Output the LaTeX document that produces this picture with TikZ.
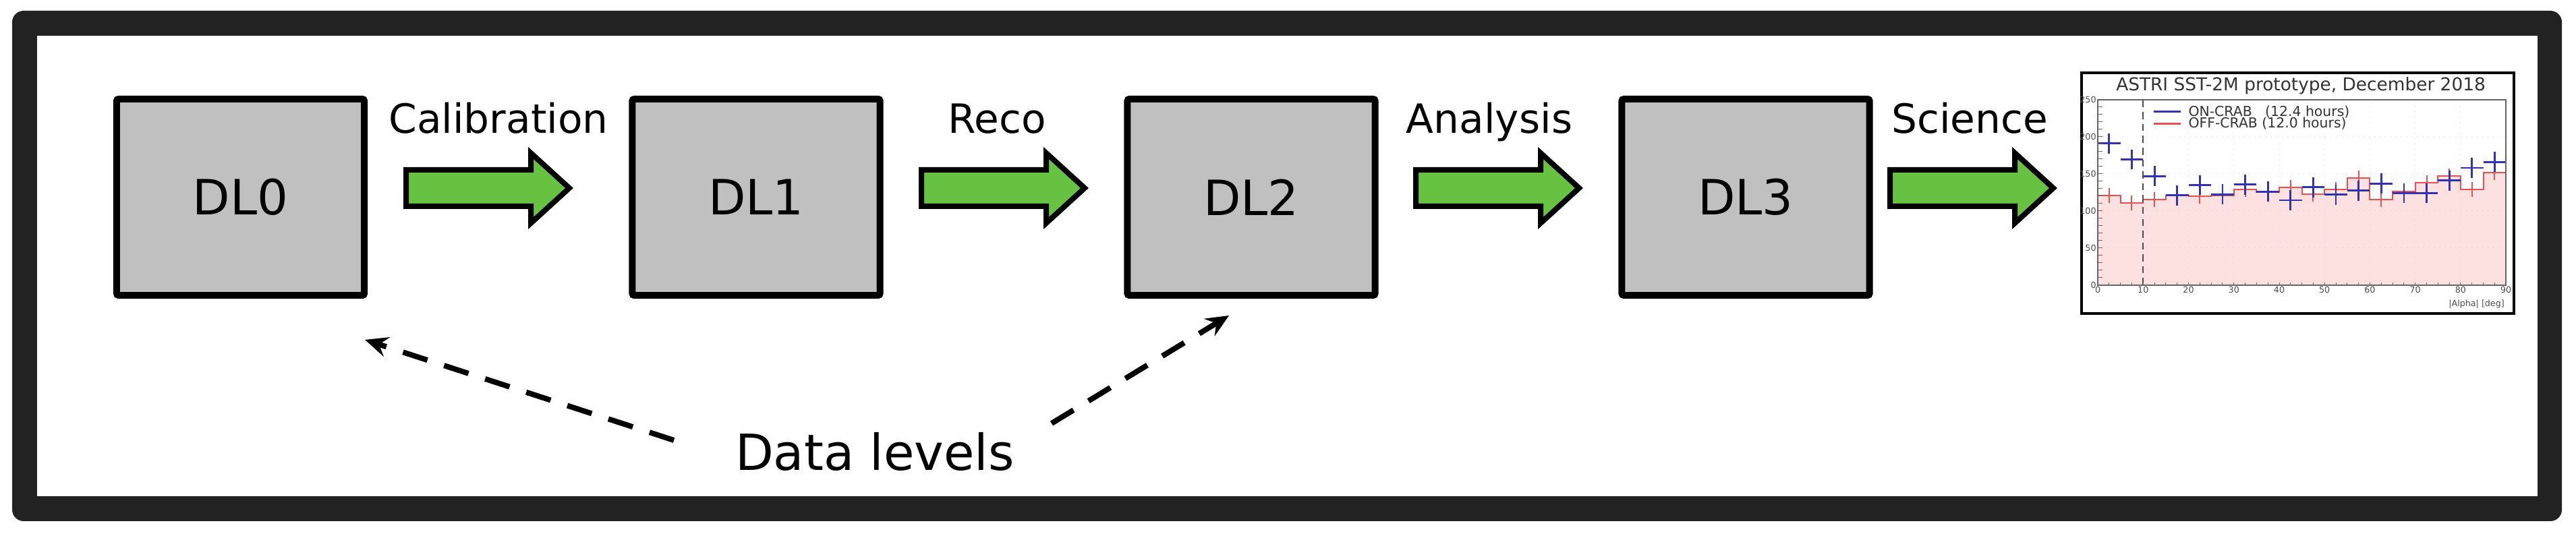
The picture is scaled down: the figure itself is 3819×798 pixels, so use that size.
\documentclass[tikz,border=0pt]{standalone}
\usepackage{fontspec}
\setmainfont{DejaVu Sans}
\usetikzlibrary{arrows.meta, positioning, calc}
\definecolor{cFrame}{RGB}{34,34,34}
\definecolor{cBox}{RGB}{192,192,192}
\definecolor{cGreen}{RGB}{104,194,66}
\definecolor{cOn}{RGB}{50,50,180}
\definecolor{cOff}{RGB}{235,80,80}
\definecolor{cShade}{RGB}{253,224,224}
\tikzset{
	dlbox/.style     ={rectangle, rounded corners=0.03cm, draw=black, line width=0.1cm, fill=cBox, minimum width=3.67cm, minimum height=2.91cm, inner sep=0pt, font=\fontsize{20.5}{24}\selectfont},
	steplabel/.style ={anchor=base, inner sep=0pt, font=\fontsize{17}{20}\selectfont},
	greenarrow/.style={draw=black, line width=0.08cm, fill=cGreen, line join=miter},
	levelarrow/.style={-{Stealth[length=0.34cm, width=0.3cm, inset=0.12cm]}, line width=0.08cm, dash pattern=on 0.38cm off 0.26cm},
	% small plot on the right
	oncross/.style   ={cOn, line width=0.028cm},
	offbar/.style    ={cOff, line width=0.02cm},
	ticklab/.style   ={inner sep=0.5pt, font=\fontsize{3.6}{4}\selectfont, text=black!70},
}
\begin{document}
\begin{tikzpicture}[x=0.01cm, y=0.01cm]
	\useasboundingbox (0,0) rectangle (3819,798);
	% frame
	\fill[cFrame, rounded corners=0.17cm] (18,25) rectangle (3798,782);
	\fill[white] (55,62) rectangle (3762,745);
	% data level boxes
	\node[dlbox] (dl0) at (356.5,505.5) {DL0};
	\node[dlbox] (dl1) at (1121,505.5) {DL1};
	\node[dlbox] (dl2) at (1855,505.5) {DL2};
	\node[dlbox] (dl3) at (2588,505.5) {DL3};
	% processing steps
	\foreach \x/\t/\lx/\nm in {598/Calibration/739/cal, 1362/Reco/1478/reco, 2095/Analysis/2208/ana, 2798/Science/2920/sci}{
		\draw[greenarrow] (\x+4,546) -- (\x+189,546) -- (\x+189,571) -- (\x+246,519) -- (\x+189,467) -- (\x+189,492) -- (\x+4,492) -- cycle;
		\node[steplabel] (\nm) at (\lx,600) {\t};
	}
	% data levels
	\node[anchor=base, inner sep=0pt, font=\fontsize{21}{25}\selectfont] (levels) at (1297,100) {Data levels};
	\coordinate (lvtail0) at (999,145);
	\coordinate (lvtip0) at (541,294);
	\coordinate (lvtail2) at (1559,170);
	\coordinate (lvtip2) at (1822,330);
	\draw[levelarrow] (lvtail0) -- (lvtip0);
	\draw[levelarrow] (lvtail2) -- (lvtip2);
	% result plot
	\draw[line width=0.04cm, fill=white] (3086,333) rectangle (3727,690);
	\node[font=\fontsize{7.5}{9}\selectfont, text=black!80] (ptitle) at (3411,671) {ASTRI SST-2M prototype, December 2018};
	\begin{scope}[shift={(3110,375)}, x=0.0672cm, y=0.55cm]
		\fill[cShade] (0,0) -- plot[const plot] coordinates {(0,2.42) (5,2.21) (10,2.30) (15,2.42) (20,2.39) (25,2.42) (30,2.58) (35,2.50) (40,2.64) (45,2.45) (50,2.58) (55,2.88) (60,2.30) (65,2.52) (70,2.76) (75,2.94) (80,2.58) (85,3.03) (90,3.03)} -- (90,0) -- cycle;
		\draw[black!15, dotted, line width=0.01cm] (0,0) grid[xstep=10, ystep=1] (90,5);
		\draw[offbar] plot[const plot] coordinates {(0,2.42) (5,2.21) (10,2.30) (15,2.42) (20,2.39) (25,2.42) (30,2.58) (35,2.50) (40,2.64) (45,2.45) (50,2.58) (55,2.88) (60,2.30) (65,2.52) (70,2.76) (75,2.94) (80,2.58) (85,3.03) (90,3.03)};
		\foreach \c/\v in {2.5/2.42, 7.5/2.21, 12.5/2.30, 17.5/2.42, 22.5/2.39, 27.5/2.42, 32.5/2.58, 37.5/2.50, 42.5/2.64, 47.5/2.45, 52.5/2.58, 57.5/2.88, 62.5/2.30, 67.5/2.52, 72.5/2.76, 77.5/2.94, 82.5/2.58, 87.5/3.03}
			\draw[offbar] (\c,\v-0.2) -- (\c,\v+0.2);
		\foreach \c/\v in {2.5/3.82, 7.5/3.39, 12.5/2.94, 17.5/2.42, 22.5/2.70, 27.5/2.45, 32.5/2.71, 37.5/2.52, 42.5/2.29, 47.5/2.64, 52.5/2.44, 57.5/2.55, 62.5/2.74, 67.5/2.48, 72.5/2.48, 77.5/2.82, 82.5/3.16, 87.5/3.32}
			\draw[oncross] (\c-2.5,\v) -- (\c+2.5,\v) (\c,\v-0.27) -- (\c,\v+0.27);
		\draw[black!70, densely dashed, line width=0.02cm] (10,0) -- (10,5);
		\draw[black!60, line width=0.015cm] (0,0) rectangle (90,5);
		\foreach \x in {0,2.5,...,90} \draw[black!60, line width=0.01cm] (\x,0) -- (\x,0.08);
		\foreach \y in {0,0.2,...,5} \draw[black!60, line width=0.01cm] (0,\y) -- (1,\y);
		\foreach \x in {0,10,...,90} \node[ticklab, below] at (\x,0) {\x};
		\foreach \y/\t in {0/0, 1/50, 2/100, 3/150, 4/200, 5/250} \node[ticklab, left] at (0,\y) {\t};
		\node[ticklab, anchor=north east] (xlab) at (90,-0.35) {|Alpha| [deg]};
		% legend
		\draw[cOn, line width=0.03cm] (12.35,4.67) -- (18.3,4.67);
		\draw[cOff, line width=0.03cm] (12.35,4.35) -- (18.3,4.35);
		\node[anchor=west, inner sep=0pt, font=\fontsize{5.8}{7}\selectfont, text=black!80] (legon) at (19.9,4.67) {ON-CRAB~~~(12.4 hours)};
		\node[anchor=west, inner sep=0pt, font=\fontsize{5.8}{7}\selectfont, text=black!80] (legoff) at (19.9,4.35) {OFF-CRAB (12.0 hours)};
	\end{scope}
\end{tikzpicture}
\end{document}
